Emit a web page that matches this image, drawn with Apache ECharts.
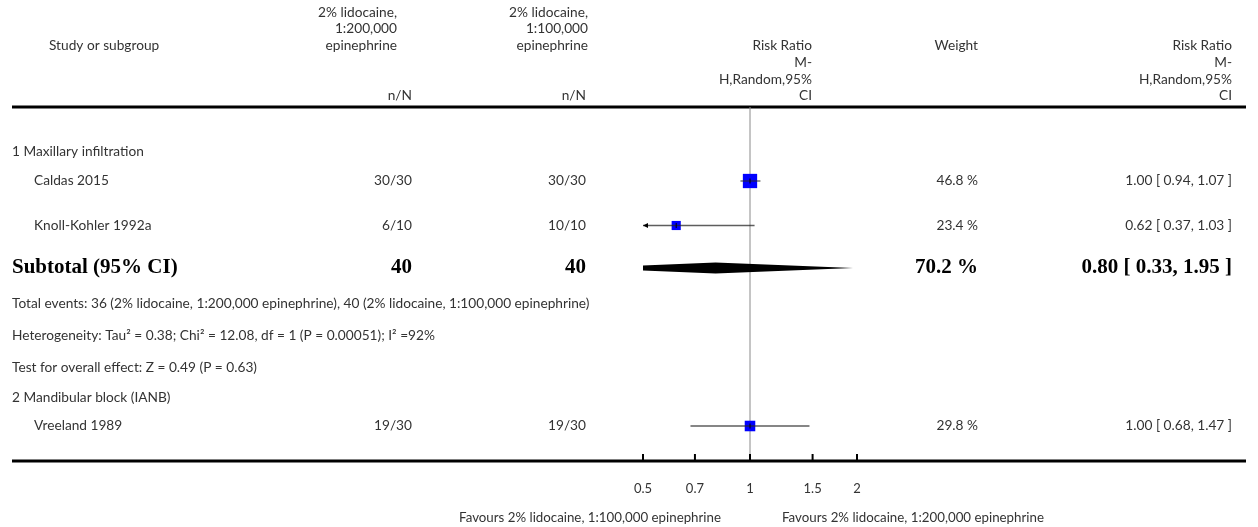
<!DOCTYPE html>
<html><head><meta charset="utf-8">
<script src="https://cdn.jsdelivr.net/npm/echarts@6/dist/echarts.min.js"></script>
<style>html,body{margin:0;padding:0;background:#fff}#c{width:1258px;height:527px}</style>
</head><body><div id="c"></div>
<script>
// ---------- data ----------
const groupNames = ['1 Maxillary infiltration', '2 Mandibular block (IANB)'];
const studyNames = ['Caldas 2015', 'Knoll-Kohler 1992a', 'Vreeland 1989'];
const eventsLowEpi = ['30/30', '6/10', '19/30'];    // 2% lidocaine, 1:200,000 epinephrine
const eventsHighEpi = ['30/30', '10/10', '19/30'];  // 2% lidocaine, 1:100,000 epinephrine
const riskRatio = [1.00, 0.62, 1.00];
const ciLower = [0.94, 0.37, 0.68];
const ciUpper = [1.07, 1.03, 1.47];
const weightPct = [46.8, 23.4, 29.8];
const subtotalN = [40, 40];
const subtotalRR = [0.80, 0.33, 1.95];  // estimate, lower, upper
const subtotalWeight = 70.2;
const subtotalNotes = [
  'Total events: 36 (2% lidocaine, 1:200,000 epinephrine), 40 (2% lidocaine, 1:100,000 epinephrine)',
  'Heterogeneity: Tau\u00b2 = 0.38; Chi\u00b2 = 12.08, df = 1 (P = 0.00051); I\u00b2 =92%',
  'Test for overall effect: Z = 0.49 (P = 0.63)'
];
const axisTicks = [0.5, 0.7, 1, 1.5, 2];
const axisTickLabels = ['0.5', '0.7', '1', '1.5', '2'];
const favourLabels = ['Favours 2% lidocaine, 1:100,000 epinephrine', 'Favours 2% lidocaine, 1:200,000 epinephrine'];
const headerA = ['2% lidocaine,', '1:200,000', 'epinephrine'];
const headerB = ['2% lidocaine,', '1:100,000', 'epinephrine'];
const headerRR = ['Risk Ratio', 'M-', 'H,Random,95%', 'CI'];

// ---------- layout (px from the header rule) ----------
const rowGroup = [45, 291];
const rowStudy = [74, 118.5, 319];
const rowSubtotal = 161;
const rowNotes = [197, 229, 261];
const FONT = 'Lato, "Open Sans", sans-serif';
const SERIF = '"Liberation Serif", "DejaVu Serif", serif';
const TXT = '#333';
const BODY = '13.7px ';
const colName = 34, colGroup = 12, colA = 412, colB = 586, colW = 978, colRR = 1232;

const fmt2 = v => v.toFixed(2);
const rrText = (r, l, u) => fmt2(r) + ' [ ' + fmt2(l) + ', ' + fmt2(u) + ' ]';

const chart = echarts.init(document.getElementById('c'), null, {renderer: 'canvas'});
const xMin = axisTicks[0], xMax = axisTicks[axisTicks.length - 1];

function txt(x, y, s, align, size) {
  return {type: 'text', style: {x: x, y: y, text: s, fill: TXT, font: (size || BODY) + FONT, align: align || 'left', verticalAlign: 'middle'}};
}

// header graphics
const HL = [12.5, 29, 46, 63, 79.5, 96];
const headerEls = [];
headerA.forEach((s, i) => headerEls.push(txt(397, HL[i], s, 'right')));
headerB.forEach((s, i) => headerEls.push(txt(588, HL[i], s, 'right')));
headerEls.push(txt(49, HL[2], 'Study or subgroup', 'left'));
headerEls.push(txt(colA, HL[5], 'n/N', 'right'));
headerEls.push(txt(colB, HL[5], 'n/N', 'right'));
headerRR.forEach((s, i) => headerEls.push(txt(812, HL[2 + i], s, 'right')));
headerEls.push(txt(colW, HL[2], 'Weight', 'right'));
headerRR.forEach((s, i) => headerEls.push(txt(colRR, HL[2 + i], s, 'right')));
headerEls.push(txt(721, 518, favourLabels[0], 'right', '13.3px '));
headerEls.push(txt(782, 518, favourLabels[1], 'left', '13.3px '));
// table rules
headerEls.push({type: 'line', shape: {x1: 12, y1: 107, x2: 1246, y2: 107}, style: {stroke: '#000', lineWidth: 3}});
headerEls.push({type: 'line', shape: {x1: 12, y1: 461, x2: 1246, y2: 461}, style: {stroke: '#000', lineWidth: 3}});

// study rows data
const studyData = studyNames.map((n, i) => [riskRatio[i], ciLower[i], ciUpper[i], rowStudy[i], weightPct[i], i]);

const option = {
  animation: false,
  grid: {left: 643, right: 1258 - 857, top: 107, bottom: 527 - 461},
  xAxis: {type: 'log', logBase: 10, min: xMin, max: xMax, show: false},
  yAxis: {type: 'value', min: 0, max: 354, inverse: true, show: false},
  graphic: headerEls,
  series: [
    { // reference line at RR = 1
      type: 'custom', data: [[1]], silent: true, z: 1,
      renderItem: (p, api) => {
        const a = api.coord([api.value(0), 0]), b = api.coord([api.value(0), 354]);
        return {type: 'line', shape: {x1: a[0], y1: a[1], x2: b[0], y2: b[1]}, style: {stroke: '#8a8a8a', lineWidth: 1}};
      }
    },
    { // axis ticks and labels
      type: 'custom', data: axisTicks.map((t, i) => [t, i]), silent: true, z: 3,
      renderItem: (p, api) => {
        const c = api.coord([api.value(0), 354]);
        return {type: 'group', children: [
          {type: 'line', shape: {x1: c[0], y1: c[1] - 7, x2: c[0], y2: c[1]}, style: {stroke: '#000', lineWidth: 2}},
          {type: 'text', style: {x: c[0], y: c[1] + 28, text: axisTickLabels[api.value(1)], fill: TXT, font: '13px ' + FONT, align: 'center', verticalAlign: 'middle'}}
        ]};
      }
    },
    { // study squares and CIs
      type: 'custom', data: studyData, silent: true, z: 4,
      renderItem: (p, api) => {
        const rr = api.value(0), lo = api.value(1), hi = api.value(2), y = api.value(3), w = api.value(4);
        const c = api.coord([rr, y]);
        const l = api.coord([Math.max(lo, xMin), y]), r = api.coord([Math.min(hi, xMax), y]);
        const s = 4 + 0.22 * w;
        const kids = [
          {type: 'rect', shape: {x: c[0] - s / 2, y: c[1] - s / 2, width: s, height: s}, style: {fill: '#0000ff'}},
          {type: 'line', shape: {x1: l[0], y1: c[1], x2: r[0], y2: c[1]}, style: {stroke: 'rgba(40,40,40,0.75)', lineWidth: 1.3}},
          {type: 'line', shape: {x1: c[0], y1: c[1] - 2.5, x2: c[0], y2: c[1] + 2.5}, style: {stroke: '#000', lineWidth: 1}}
        ];
        if (lo < xMin) kids.push({type: 'polygon', shape: {points: [[l[0], c[1]], [l[0] + 5, c[1] - 2.5], [l[0] + 5, c[1] + 2.5]]}, style: {fill: '#000'}});
        if (hi > xMax) kids.push({type: 'polygon', shape: {points: [[r[0], c[1]], [r[0] - 5, c[1] - 2.5], [r[0] - 5, c[1] + 2.5]]}, style: {fill: '#000'}});
        return {type: 'group', children: kids};
      }
    },
    { // subtotal diamond
      type: 'custom', data: [[subtotalRR[0], subtotalRR[1], subtotalRR[2], rowSubtotal]], silent: true, z: 4, clip: true,
      renderItem: (p, api) => {
        const y = api.value(3);
        const c = api.coord([api.value(0), y]), l = api.coord([api.value(1), y]), r = api.coord([api.value(2), y]);
        return {type: 'polygon', shape: {points: [[l[0], c[1]], [c[0], c[1] - 5.5], [r[0], c[1]], [c[0], c[1] + 5.5]]}, style: {fill: '#000'}};
      }
    },
    { // table text for study rows
      type: 'custom', data: studyData, silent: true, z: 5,
      renderItem: (p, api) => {
        const i = api.value(5);
        const y = api.coord([1, api.value(3)])[1];
        return {type: 'group', children: [
          txt(colName, y, studyNames[i]),
          txt(colA, y, eventsLowEpi[i], 'right'),
          txt(colB, y, eventsHighEpi[i], 'right'),
          txt(colW, y, weightPct[i].toFixed(1) + ' %', 'right'),
          txt(colRR, y, rrText(riskRatio[i], ciLower[i], ciUpper[i]), 'right')
        ]};
      }
    },
    { // group headings, subtotal and notes
      type: 'custom', data: [[0]], silent: true, z: 5,
      renderItem: (p, api) => {
        const Y = v => api.coord([1, v])[1];
        const bold = (x, y, s, align) => ({type: 'text', style: {x: x, y: y, text: s, fill: '#000', font: 'bold 21px ' + SERIF, align: align, verticalAlign: 'middle'}});
        const kids = [];
        groupNames.forEach((g, i) => kids.push(txt(colGroup, Y(rowGroup[i]), g)));
        const ys = Y(rowSubtotal);
        kids.push(bold(colGroup, ys, 'Subtotal (95% CI)', 'left'));
        kids.push(bold(colA, ys, String(subtotalN[0]), 'right'));
        kids.push(bold(colB, ys, String(subtotalN[1]), 'right'));
        kids.push(bold(colW, ys, subtotalWeight.toFixed(1) + ' %', 'right'));
        kids.push(bold(colRR, ys, rrText(subtotalRR[0], subtotalRR[1], subtotalRR[2]), 'right'));
        subtotalNotes.forEach((s, i) => kids.push(txt(colGroup, Y(rowNotes[i]), s)));
        return {type: 'group', children: kids};
      }
    }
  ]
};
chart.setOption(option);
</script></body></html>
